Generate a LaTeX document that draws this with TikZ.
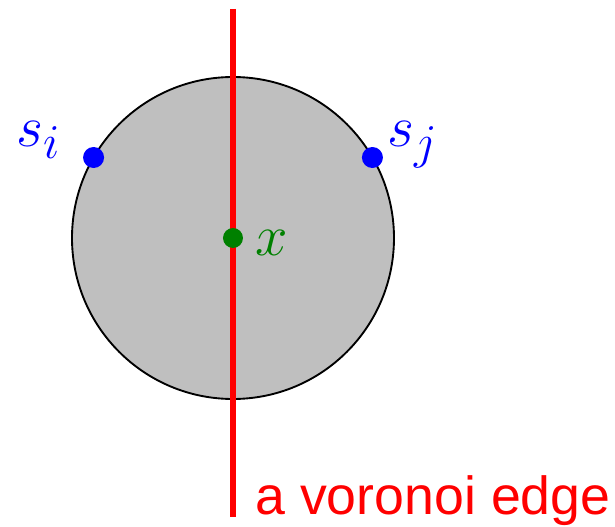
\documentclass[tikz,border=0pt]{standalone}
\usepackage{fontspec}
\usepackage{amsmath}
\usepackage{tikz}
\usetikzlibrary{calc}
\newfontfamily\edgefont{Liberation Sans}
\definecolor{edgered}{RGB}{255, 0, 0}
\definecolor{siteblue}{RGB}{0, 0, 255}
\definecolor{centergreen}{RGB}{0, 128, 0}
\definecolor{diskgray}{RGB}{191, 191, 191}

\begin{document}
\begin{tikzpicture}[
    sitedot/.style={fill=siteblue, draw=none},
    sitelabel/.style={text=siteblue, font=\Huge, inner sep=0pt}
  ]
  \useasboundingbox (-3.495, -4.335) rectangle (5.73, 3.57);

  % Empty disk through both sites
  \filldraw[fill=diskgray, draw=black, line width=0.8pt] (0, 0) circle (2.415);

  % The edge
  \coordinate (top) at (0, 3.435);
  \coordinate (bottom) at (0, -4.185);
  \draw[edgered, line width=2.6pt] (top) -- (bottom);
  \node[edgered, anchor=base west, inner sep=0pt, font=\edgefont\fontsize{22.9}{27}\selectfont]
    (edgelabel) at (0.33, -4.155) {a voronoi edge};

  % Sites
  \coordinate (si) at (150:2.415);
  \coordinate (sj) at (30:2.415);
  \fill[sitedot] (si) circle (0.1575);
  \fill[sitedot] (sj) circle (0.1575);
  \node[sitelabel, anchor=base east] (silabel) at (-2.58, 1.365) {$s_i$};
  \node[sitelabel, anchor=base west] (sjlabel) at (2.31, 1.365) {$s_j$};

  % Center
  \coordinate (x) at (0, 0);
  \fill[centergreen] (x) circle (0.15);
  \node[text=centergreen, font=\Huge, inner sep=0pt, anchor=base west] (xlabel) at (0.33, -0.255) {$x$};

\end{tikzpicture}
\end{document}
